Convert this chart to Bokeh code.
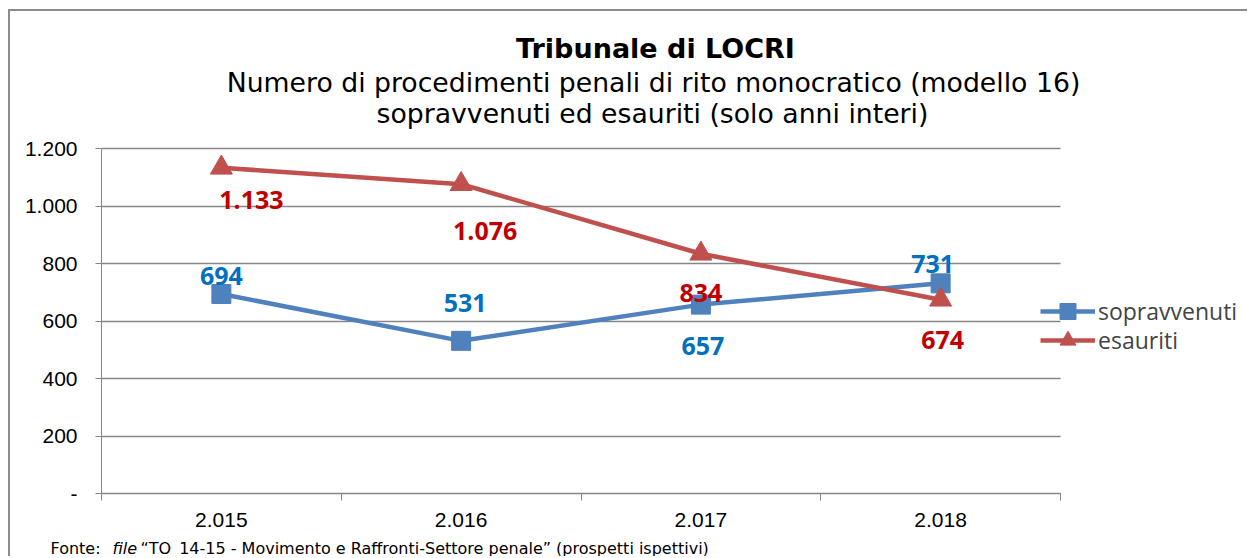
from bokeh.plotting import figure
from bokeh.models import (ColumnDataSource, Range1d, FixedTicker, LabelSet, Label,
                          Legend, LegendItem)
from bokeh.core.properties import value
from bokeh.embed import file_html
from bokeh.resources import INLINE

# ---- data ----
years = ["2.015", "2.016", "2.017", "2.018"]
sopravvenuti = [694, 531, 657, 731]
esauriti = [1133, 1076, 834, 674]
y_ticks = [0, 200, 400, 600, 800, 1000, 1200]
title_text = "Tribunale di LOCRI"
subtitle_1 = "Numero di procedimenti penali di rito monocratico (modello 16)"
subtitle_2 = "sopravvenuti ed esauriti (solo anni interi)"
source_parts = ["Fonte:", "file", "\u201cTO_14-15 - Movimento e Raffronti-Settore penale\u201d (prospetti ispettivi)"]

# ---- styles / layout ----
BLUE = "#4F81BD"
RED = "#C0504D"
BLUE_TXT = "#0070C0"
RED_TXT = "#C00000"
GRID = "#868686"
W, H = 1239, 547
PLOT_LEFT, PLOT_RIGHT = 91, 1050     # canvas pixels of the data area
PLOT_TOP, PLOT_BOTTOM = 137, 482

def fmt(v):
    return f"{v:,}".replace(",", ".")

xs = [i + 0.5 for i in range(len(years))]
src_b = ColumnDataSource(dict(x=xs, y=sopravvenuti, t=[fmt(v) for v in sopravvenuti],
                              dx=[0, 4, 2, -8], dy=[18, 38, -41, 19]))
src_r = ColumnDataSource(dict(x=xs, y=esauriti, t=[fmt(v) for v in esauriti],
                              dx=[30, 24, 0, 2], dy=[-32, -47, -39, -40]))

x_max = len(years)
y_max = y_ticks[-1]
kx = x_max / (PLOT_RIGHT - PLOT_LEFT)
ky = y_max / (PLOT_BOTTOM - PLOT_TOP)
p = figure(width=W, height=H, output_backend="svg", toolbar_location=None,
           x_range=Range1d(-PLOT_LEFT * kx, (W - PLOT_LEFT) * kx),
           y_range=Range1d(-(H - PLOT_BOTTOM) * ky, PLOT_BOTTOM * ky),
           min_border_left=0, min_border_right=0, min_border_top=0, min_border_bottom=0)
p.outline_line_color = None
p.background_fill_color = "white"
p.border_fill_color = "white"
p.styles = {"margin-left": "8px", "margin-top": "9px",
            "border-left": "2px solid #8c8c8c", "border-top": "2px solid #8c8c8c"}

# x axis: labels at centres, ticks at boundaries
xa = p.xaxis[0]
xa.fixed_location = 0
xa.bounds = (0, x_max)
xa.ticker = FixedTicker(ticks=xs, minor_ticks=list(range(len(years) + 1)))
xa.major_label_overrides = {x: y for x, y in zip(xs, years)}
xa.major_tick_line_color = None
xa.major_tick_out = 0
xa.major_tick_in = 0
xa.minor_tick_line_color = GRID
xa.minor_tick_out = 7
xa.minor_tick_in = 0
xa.axis_line_color = GRID
xa.major_label_text_font = "Liberation Sans"
xa.major_label_text_font_size = "21px"
xa.major_label_text_color = "black"
xa.major_label_standoff = 12

ya = p.yaxis[0]
ya.fixed_location = 0
ya.bounds = (0, y_max)
ya.ticker = FixedTicker(ticks=y_ticks)
ya.major_label_overrides = {v: ("-" if v == 0 else fmt(v)) for v in y_ticks}
ya.major_tick_line_color = GRID
ya.major_tick_out = 6
ya.major_tick_in = 0
ya.minor_tick_line_color = None
ya.axis_line_color = GRID
ya.major_label_text_font = "Liberation Sans"
ya.major_label_text_font_size = "21px"
ya.major_label_text_color = "black"
ya.major_label_standoff = 18

p.xgrid.grid_line_color = None
p.ygrid.ticker = FixedTicker(ticks=y_ticks)
p.ygrid.cross_bounds = (0, x_max)
p.ygrid.grid_line_color = GRID
p.ygrid.grid_line_width = 1.5

# series
lb = p.line("x", "y", source=src_b, line_color=BLUE, line_width=4.5)
mb = p.scatter("x", "y", source=src_b, marker="square", size=19, fill_color=BLUE, line_color=BLUE)
lr = p.line("x", "y", source=src_r, line_color=RED, line_width=4.5)
mr = p.scatter("x", "y", source=src_r, marker="triangle", size=22, fill_color=RED, line_color=RED)

for src, col in ((src_b, BLUE_TXT), (src_r, RED_TXT)):
    p.add_layout(LabelSet(x="x", y="y", text="t", source=src, x_offset="dx", y_offset="dy",
                          text_align="center", text_baseline="middle", text_color=col,
                          text_font=value("Open Sans"), text_font_style="bold",
                          text_font_size=value("25px")))

# legend: one entry per legend so the rows can sit close together
for label, rends, ly in (("sopravvenuti", [lb, mb], 227), ("esauriti", [lr, mr], 198)):
    p.add_layout(Legend(items=[LegendItem(label=label, renderers=rends)],
                        location=(1030, ly), glyph_width=55, glyph_height=40, label_standoff=3,
                        padding=0, margin=0, border_line_alpha=0, background_fill_alpha=0,
                        label_text_font="Open Sans", label_text_font_size="23px"))

# titles
for txt, lx, ly, style, size in ((title_text, 645, 510, "bold", "27px"),
                                 (subtitle_1, 643, 476, "normal", "26.7px"),
                                 (subtitle_2, 642, 445, "normal", "26.7px")):
    p.add_layout(Label(x=lx, y=ly, x_units="screen", y_units="screen", text=txt,
                       text_align="center", text_baseline="middle", text_font="DejaVu Sans",
                       text_font_style=style, text_font_size=size, text_color="black"))

# source note
for txt, lx, style in ((source_parts[0], 40, "normal"), (source_parts[1], 102, "italic"),
                       (source_parts[2], 130, "normal")):
    p.add_layout(Label(x=lx, y=1, x_units="screen", y_units="screen", text=txt,
                       text_align="left", text_baseline="bottom", text_font="DejaVu Sans",
                       text_font_style=style, text_font_size="16px", text_color="black"))

open("out.html", "w").write(file_html(p, INLINE))
